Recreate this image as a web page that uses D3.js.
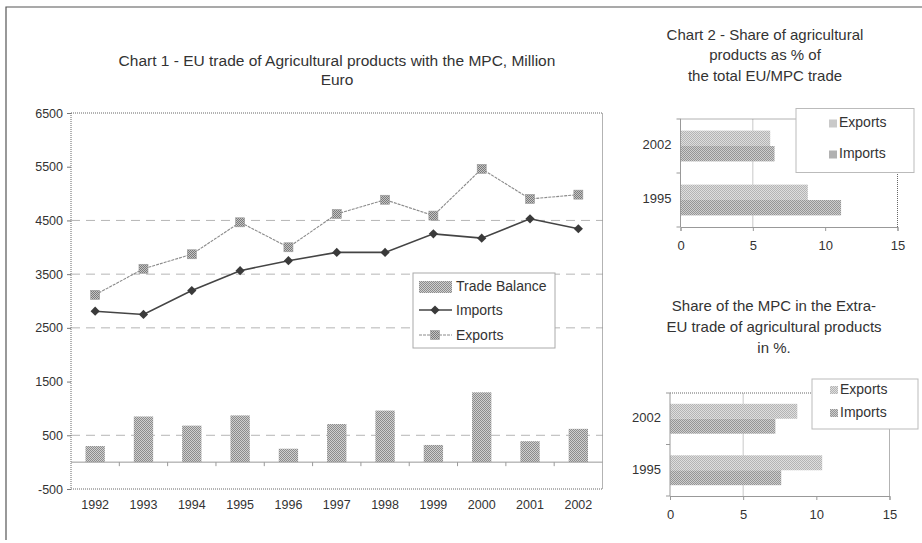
<!DOCTYPE html>
<html>
<head>
<meta charset="utf-8">
<script src="https://cdn.jsdelivr.net/npm/d3@7"></script>
<style>
  body { margin: 0; background: #fff; }
  svg { display: block; font-family: Arial, "Liberation Sans", sans-serif; }
  text { fill: #333; }
</style>
</head>
<body>
<div id="chart"></div>
<script>
// Chart 1 data
const years = [1992, 1993, 1994, 1995, 1996, 1997, 1998, 1999, 2000, 2001, 2002];
const tradeBalance = [300, 850, 680, 870, 250, 710, 960, 320, 1300, 390, 620];
const imports = [2810, 2750, 3195, 3565, 3750, 3905, 3905, 4250, 4170, 4530, 4345];
const exports = [3115, 3600, 3870, 4465, 4000, 4620, 4885, 4590, 5460, 4900, 4980];
const yTicks = [-500, 500, 1500, 2500, 3500, 4500, 5500, 6500];
const gridValues = [500, 2500, 3500, 4500];

// Chart 2 / chart 3 data (category order top to bottom)
const shareYears = ["2002", "1995"];
const shareSeries = ["Exports", "Imports"];
const shareTotalExports = [6.2, 8.8];
const shareTotalImports = [6.5, 11.1];
const shareExtraExports = [8.7, 10.4];
const shareExtraImports = [7.2, 7.6];
const shareTicks = [0, 5, 10, 15];
const shareGrid = [5];

const W = 922, H = 543;
const svg = d3.select("#chart").append("svg").attr("width", W).attr("height", H);

// dithered fills like the scanned print
const defs = svg.append("defs");
function dither(id, dark, light) {
  const p = defs.append("pattern").attr("id", id)
    .attr("width", 2).attr("height", 2).attr("patternUnits", "userSpaceOnUse");
  p.append("rect").attr("width", 2).attr("height", 2).attr("fill", light);
  p.append("rect").attr("width", 1).attr("height", 1).attr("fill", dark);
  p.append("rect").attr("x", 1).attr("y", 1).attr("width", 1).attr("height", 1).attr("fill", dark);
}
dither("balFill", "#8c8c8c", "#cfcfcf");
dither("expFill", "#b4b4b4", "#dedede");
dither("impFill", "#959595", "#cdcdcd");
dither("mkFill", "#7a7a7a", "#c4c4c4");

// outer frame (left + top only visible)
svg.append("path").attr("d", "M6,540V7H922").attr("fill", "none").attr("stroke", "#555").attr("stroke-width", 1.2);

// ---------------- Chart 1 ----------------
const plot = { left: 71, right: 602.5, top: 113, bottom: 489 };

const x = d3.scaleBand().domain(years)
  .range([plot.left, plot.right]).paddingInner(0.6).paddingOuter(0.3);
const y = d3.scaleLinear().domain([-500, 6500]).range([plot.bottom, plot.top]);
const cx = d => x(d) + x.bandwidth() / 2;

svg.append("text").attr("x", 337).attr("y", 62).attr("text-anchor", "middle")
  .attr("dominant-baseline", "middle").style("font-size", "15.5px")
  .text("Chart 1 - EU trade of Agricultural products with the MPC, Million");
svg.append("text").attr("x", 337).attr("y", 81).attr("text-anchor", "middle")
  .attr("dominant-baseline", "middle").style("font-size", "15.5px").text("Euro");

// dashed gridlines
svg.selectAll(".grid").data(gridValues).enter().append("line")
  .attr("class", "grid")
  .attr("x1", plot.left).attr("x2", plot.right)
  .attr("y1", d => y(d)).attr("y2", d => y(d))
  .attr("stroke", "#b5b5b5").attr("stroke-dasharray", "9,6");

// dotted plot border
svg.append("rect")
  .attr("x", plot.left).attr("y", plot.top)
  .attr("width", plot.right - plot.left).attr("height", plot.bottom - plot.top)
  .attr("fill", "none").attr("stroke", "#666").attr("stroke-dasharray", "1,1");

// y axis
const yAxis = svg.append("g").attr("transform", `translate(${plot.left},0)`)
  .call(d3.axisLeft(y).tickValues(yTicks).tickSize(4).tickPadding(4).tickFormat(d => String(d)));
yAxis.select(".domain").remove();
yAxis.selectAll("line").attr("stroke", "#777");
yAxis.selectAll("text").style("font-size", "12.5px").attr("fill", "#333");

// trade balance bars
svg.selectAll(".bal").data(years).enter().append("rect")
  .attr("class", "bal")
  .attr("x", d => x(d))
  .attr("width", x.bandwidth())
  .attr("y", (d, i) => y(tradeBalance[i]))
  .attr("height", (d, i) => y(0) - y(tradeBalance[i]))
  .attr("fill", "url(#balFill)");

// zero axis with ticks between categories
svg.append("line").attr("x1", plot.left).attr("x2", plot.right)
  .attr("y1", y(0)).attr("y2", y(0)).attr("stroke", "#999");
const bounds = years.slice(1).map(d => x(d) - x.step() * x.paddingInner() / 2);
svg.selectAll(".xtick").data(bounds).enter().append("line")
  .attr("x1", d => d).attr("x2", d => d)
  .attr("y1", y(0)).attr("y2", y(0) + 4).attr("stroke", "#999");

// x labels
svg.append("g").attr("transform", `translate(0,${plot.bottom})`)
  .call(d3.axisBottom(x).tickSize(0).tickPadding(11))
  .call(g => g.select(".domain").remove())
  .selectAll("text").style("font-size", "12.5px").attr("fill", "#333");

// exports line
const line = d3.line().x(d => cx(d[0])).y(d => y(d[1]));
svg.append("path").datum(years.map((d, i) => [d, exports[i]]))
  .attr("d", line).attr("fill", "none")
  .attr("stroke", "#8a8a8a").attr("stroke-width", 1.1).attr("stroke-dasharray", "3,1");
svg.selectAll(".expMk").data(years).enter().append("rect")
  .attr("x", d => cx(d) - 4.5).attr("y", (d, i) => y(exports[i]) - 4.5)
  .attr("width", 9).attr("height", 9)
  .attr("fill", "url(#mkFill)").attr("stroke", "#999").attr("stroke-width", 0.6);

// imports line
svg.append("path").datum(years.map((d, i) => [d, imports[i]]))
  .attr("d", line).attr("fill", "none")
  .attr("stroke", "#444").attr("stroke-width", 1.6);
const diamond = "M0,-4.6L4.6,0L0,4.6L-4.6,0Z";
svg.selectAll(".impMk").data(years).enter().append("path")
  .attr("d", diamond)
  .attr("transform", (d, i) => `translate(${cx(d)},${y(imports[i])})`)
  .attr("fill", "#3a3a3a");

// legend
const lg = svg.append("g").attr("transform", "translate(413,273)");
lg.append("rect").attr("width", 142).attr("height", 75)
  .attr("fill", "#fff").attr("stroke", "#aaa");
lg.append("rect").attr("x", 6).attr("y", 8).attr("width", 33).attr("height", 12)
  .attr("fill", "url(#balFill)");
lg.append("line").attr("x1", 6).attr("x2", 39).attr("y1", 37).attr("y2", 37)
  .attr("stroke", "#444").attr("stroke-width", 1.4);
lg.append("path").attr("d", diamond).attr("transform", "translate(22,37)").attr("fill", "#3a3a3a");
lg.append("line").attr("x1", 6).attr("x2", 39).attr("y1", 62).attr("y2", 62)
  .attr("stroke", "#8a8a8a").attr("stroke-dasharray", "3,1");
lg.append("rect").attr("x", 17.5).attr("y", 57.5).attr("width", 9).attr("height", 9)
  .attr("fill", "url(#mkFill)").attr("stroke", "#999").attr("stroke-width", 0.6);
lg.selectAll(".lt").data(["Trade Balance", "Imports", "Exports"]).enter().append("text")
  .attr("x", 43).attr("y", (d, i) => 14 + i * 24.5)
  .attr("dominant-baseline", "middle").style("font-size", "14px").text(d => d);

// ---------------- Chart 2 / 3 ----------------
function shareChart(cfg) {
  const xs = d3.scaleLinear().domain([0, 15]).range([cfg.left, cfg.right]);
  const ys = d3.scaleBand().domain(shareYears).range([cfg.top, cfg.bottom])
    .paddingInner(cfg.pad).paddingOuter(cfg.pad / 2);
  const ss = d3.scaleBand().domain(shareSeries).range([0, ys.bandwidth()]);

  cfg.title.forEach((t, i) => {
    svg.append("text").attr("x", cfg.titleX).attr("y", cfg.titleY + i * cfg.titleStep)
      .attr("text-anchor", "middle").attr("dominant-baseline", "middle")
      .style("font-size", "15px").text(t);
  });

  // gridline
  svg.selectAll(null).data(shareGrid).enter().append("line")
    .attr("x1", d => xs(d)).attr("x2", d => xs(d))
    .attr("y1", cfg.top).attr("y2", cfg.bottom).attr("stroke", "#c8c8c8");

  // dotted top/right border
  svg.append("path")
    .attr("d", `M${cfg.left},${cfg.top}H${cfg.right}V${cfg.bottom}`)
    .attr("fill", "none").attr("stroke", "#666").attr("stroke-dasharray", "1,1");

  const rows = shareYears.map((yr, i) => ({ yr, vals: [cfg.exp[i], cfg.imp[i]] }));
  rows.forEach(r => {
    svg.selectAll(null).data(shareSeries).enter().append("rect")
      .attr("x", xs(0))
      .attr("y", s => ys(r.yr) + ss(s))
      .attr("height", ss.bandwidth())
      .attr("width", (s, j) => xs(r.vals[j]) - xs(0))
      .attr("fill", s => s === "Exports" ? "url(#expFill)" : "url(#impFill)");
  });

  // bottom axis
  const xa = svg.append("g").attr("transform", `translate(0,${cfg.bottom})`)
    .call(d3.axisBottom(xs).tickValues(shareTicks).tickSize(4).tickPadding(10));
  xa.select(".domain").attr("stroke", "#999");
  xa.selectAll("line").attr("stroke", "#999");
  xa.selectAll("text").style("font-size", "13px").attr("fill", "#333");

  // left axis: ticks at band boundaries
  svg.append("line").attr("x1", cfg.left).attr("x2", cfg.left)
    .attr("y1", cfg.top).attr("y2", cfg.bottom).attr("stroke", "#999");
  const edges = [cfg.top, (cfg.top + cfg.bottom) / 2, cfg.bottom];
  svg.selectAll(null).data(edges).enter().append("line")
    .attr("x1", cfg.left - 4).attr("x2", cfg.left)
    .attr("y1", d => d).attr("y2", d => d).attr("stroke", "#999");
  svg.selectAll(null).data(shareYears).enter().append("text")
    .attr("x", cfg.left - 9).attr("y", d => ys(d) + ys.bandwidth() / 2)
    .attr("text-anchor", "end").attr("dominant-baseline", "middle")
    .style("font-size", "13px").text(d => d);

  // legend
  const g = svg.append("g").attr("transform", `translate(${cfg.lg[0]},${cfg.lg[1]})`);
  g.append("rect").attr("width", cfg.lg[2]).attr("height", cfg.lg[3])
    .attr("fill", "#fff").attr("stroke", "#bbb");
  shareSeries.forEach((s, i) => {
    const yy = cfg.lgY[i];
    g.append("rect").attr("x", cfg.lgSw).attr("y", yy - 4).attr("width", 8).attr("height", 8)
      .attr("fill", s === "Exports" ? "url(#expFill)" : "url(#impFill)");
    g.append("text").attr("x", cfg.lgSw + 10).attr("y", yy)
      .attr("dominant-baseline", "middle").style("font-size", "14px").text(s);
  });
}

shareChart({
  left: 680.5, right: 897.5, top: 119, bottom: 227, pad: 0.43,
  exp: shareTotalExports, imp: shareTotalImports,
  title: ["Chart 2 - Share of agricultural", "products as % of", "the total EU/MPC trade"],
  titleX: 765, titleY: 36, titleStep: 20.5,
  lg: [796, 108.5, 118, 64], lgSw: 33, lgY: [15, 46]
});

shareChart({
  left: 670, right: 889.5, top: 393, bottom: 496, pad: 0.42,
  exp: shareExtraExports, imp: shareExtraImports,
  title: ["Share of the MPC in the Extra-", "EU trade of agricultural products", "in %."],
  titleX: 774, titleY: 307, titleStep: 21,
  lg: [812, 379, 106, 50], lgSw: 18, lgY: [11, 34]
});
</script>
</body>
</html>
